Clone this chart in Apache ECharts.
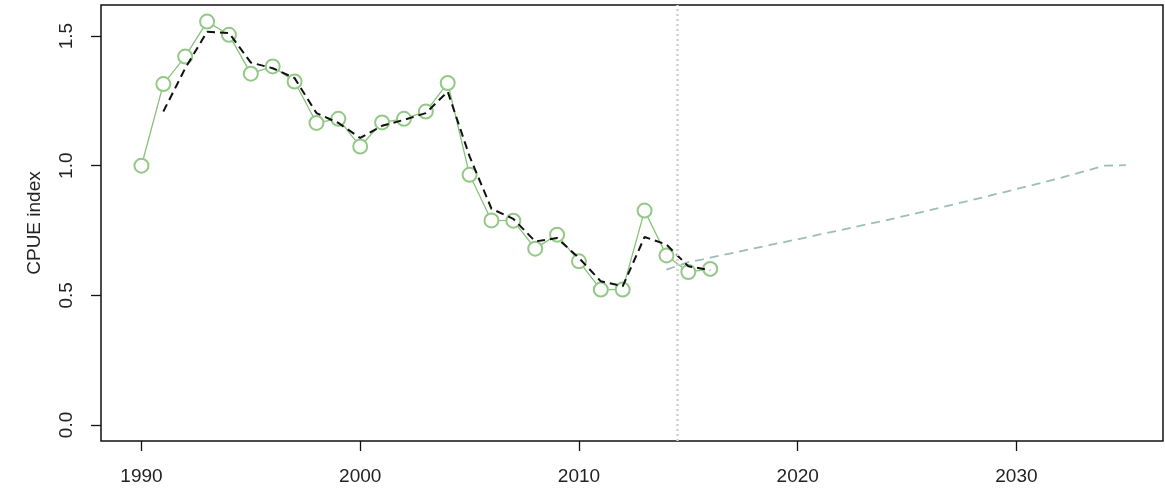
<!DOCTYPE html>
<html>
<head>
<meta charset="utf-8">
<script src="https://cdn.jsdelivr.net/npm/echarts@6/dist/echarts.min.js"></script>
<style>html,body{margin:0;padding:0;background:#fff;}#c{width:1165px;height:491px;}</style>
</head>
<body>
<div id="c"></div>
<script>
const obsYears = [1990,1991,1992,1993,1994,1995,1996,1997,1998,1999,2000,2001,2002,2003,2004,2005,2006,2007,2008,2009,2010,2011,2012,2013,2014,2015,2016];
const obsValues = [1.00,1.315,1.421,1.556,1.505,1.355,1.383,1.325,1.165,1.181,1.074,1.167,1.181,1.209,1.319,0.965,0.789,0.788,0.680,0.734,0.631,0.522,0.522,0.827,0.654,0.590,0.602];
const fitYears = [1991,1992,1993,1994,1995,1996,1997,1998,1999,2000,2001,2002,2003,2004,2005,2006,2007,2008,2009,2010,2011,2012,2013,2014,2015,2016];
const fitValues = [1.209,1.376,1.517,1.512,1.398,1.376,1.338,1.203,1.165,1.107,1.154,1.177,1.203,1.286,1.036,0.834,0.795,0.708,0.721,0.644,0.554,0.535,0.725,0.696,0.612,0.597];
const projYears = [2014,2015,2016,2017,2018,2019,2020,2021,2022,2023,2024,2025,2026,2027,2028,2029,2030,2031,2032,2033,2034,2035];
const projValues = [0.599,0.628,0.645,0.663,0.681,0.699,0.716,0.735,0.752,0.771,0.789,0.808,0.828,0.848,0.868,0.889,0.910,0.931,0.953,0.976,1.000,1.002];
const xTicks = [1990,2000,2010,2020,2030];
const yTicks = [0,0.5,1.0,1.5];
const dividerYear = 2014.5;

const zip = (a,b) => a.map((v,i)=>[v,b[i]]);
const chart = echarts.init(document.getElementById('c'), null, {renderer:'canvas'});
const font = 'Liberation Sans, Arial, sans-serif';
chart.setOption({
  animation:false,
  backgroundColor:'#fff',
  grid:{left:101,top:5,right:2,bottom:50,show:true,borderColor:'#111',borderWidth:1.5,backgroundColor:'transparent',containLabel:false},
  xAxis:{
    type:'value',min:1988.15,max:2036.7,
    axisLine:{show:false,onZero:false},
    splitLine:{show:false},
    axisTick:{show:true,customValues:xTicks,length:10,inside:false,lineStyle:{color:'#111',width:1.3}},
    axisLabel:{customValues:xTicks,color:'#222',fontSize:19,fontFamily:font,margin:26,formatter:v=>String(v)}
  },
  yAxis:{
    type:'value',min:-0.062,max:1.62,
    name:'CPUE index',nameLocation:'middle',nameGap:57,nameRotate:90,
    nameTextStyle:{color:'#222',fontSize:19,fontFamily:font},
    axisLine:{show:false},
    splitLine:{show:false},
    axisTick:{show:true,customValues:yTicks,length:10,inside:false,lineStyle:{color:'#111',width:1.3}},
    axisLabel:{customValues:yTicks,rotate:90,color:'#222',fontSize:19,fontFamily:font,margin:34,formatter:v=>v.toFixed(1),verticalAlign:'middle',align:'center'}
  },
  series:[
    {type:'line',data:zip(projYears,projValues),symbol:'none',
     lineStyle:{color:'#9dbdb8',width:1.8,type:[9,6]},z:2,
     markLine:{silent:true,symbol:['none','none'],label:{show:false},
       lineStyle:{color:'#cfcfcf',type:[2,3],width:2.5},data:[{xAxis:dividerYear}]}},
    {type:'line',data:zip(obsYears,obsValues),symbol:'emptyCircle',symbolSize:14,
     lineStyle:{color:'#86c279',width:1.3},
     itemStyle:{color:'#93c987',borderColor:'#93c987',borderWidth:1.5},z:3},
    {type:'line',data:zip(fitYears,fitValues),symbol:'none',
     lineStyle:{color:'#111',width:2,type:[8,5]},z:4}
  ]
});
</script>
</body>
</html>
